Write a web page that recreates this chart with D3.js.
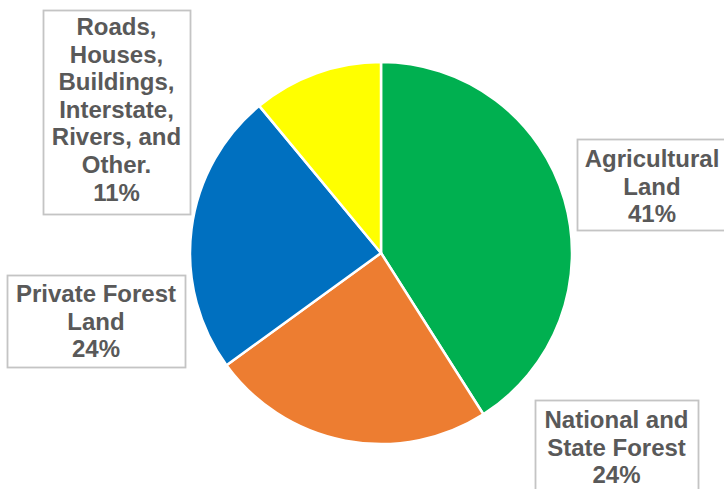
<!DOCTYPE html>
<html lang="en">
<head>
<meta charset="utf-8">
<title>Land use</title>
<script src="https://d3js.org/d3.v7.min.js"></script>
<style>
  body { margin: 0; background: #fff; }
  svg { display: block; }
  .lbl { font-family: "Liberation Sans", Arial, sans-serif; font-weight: bold; font-size: 24px; fill: #595959; }
</style>
</head>
<body>
<svg id="chart"></svg>
<script>
// slice data, clockwise from 12 o'clock
var categories = ["Agricultural Land", "National and State Forest", "Private Forest Land", "Roads, Houses, Buildings, Interstate, Rivers, and Other."];
var values = [41, 24, 24, 11];
var colors = ["#00B050", "#ED7D31", "#0070C0", "#FFFF00"];
// how each label is wrapped
var labelLines = [
  ["Agricultural", "Land"],
  ["National and", "State Forest"],
  ["Private Forest", "Land"],
  ["Roads,", "Houses,", "Buildings,", "Interstate,", "Rivers, and", "Other."]
];

var config = { w: 724, h: 489, cx: 381, cy: 253, r: 191, lh: 27.6 };

// label box layout (x0, y0, x1, y1, first baseline)
var boxes = [
  { x0: 577, y0: 139, x1: 727, y1: 230, base: 167 },
  { x0: 535, y0: 400, x1: 698, y1: 494, base: 428 },
  { x0: 7,   y0: 275, x1: 185, y1: 367, base: 302 },
  { x0: 43,  y0: 10,  x1: 190, y1: 214, base: 35 }
];

var svg = d3.select("#chart")
  .attr("width", config.w)
  .attr("height", config.h);

var pie = d3.pie().sort(null).value(function(d) { return d; });
var arc = d3.arc().innerRadius(0).outerRadius(config.r);

var g = svg.append("g")
  .attr("transform", "translate(" + config.cx + "," + config.cy + ")");

g.selectAll("path")
  .data(pie(values))
  .enter()
  .append("path")
    .attr("d", arc)
    .attr("fill", function(d, i) { return colors[i]; })
    .attr("stroke", "#fff")
    .attr("stroke-width", 2.5)
    .attr("stroke-linejoin", "round");

// label boxes
var labels = svg.selectAll("g.label")
  .data(categories)
  .enter()
  .append("g")
    .attr("class", "label");

labels.append("rect")
  .attr("x", function(d, i) { return boxes[i].x0 + 0.5; })
  .attr("y", function(d, i) { return boxes[i].y0 + 0.5; })
  .attr("width", function(d, i) { return boxes[i].x1 - boxes[i].x0; })
  .attr("height", function(d, i) { return boxes[i].y1 - boxes[i].y0; })
  .attr("fill", "#fff")
  .attr("stroke", "#C4C4C4")
  .attr("stroke-width", 1.8);

labels.each(function(d, i) {
  var b = boxes[i];
  var lines = labelLines[i].concat([values[i] + "%"]);
  var t = d3.select(this).append("text")
    .attr("class", "lbl")
    .attr("text-anchor", "middle");
  lines.forEach(function(s, k) {
    t.append("tspan")
      .attr("x", (b.x0 + b.x1) / 2)
      .attr("y", b.base + k * config.lh)
      .text(s);
  });
});
</script>
</body>
</html>
